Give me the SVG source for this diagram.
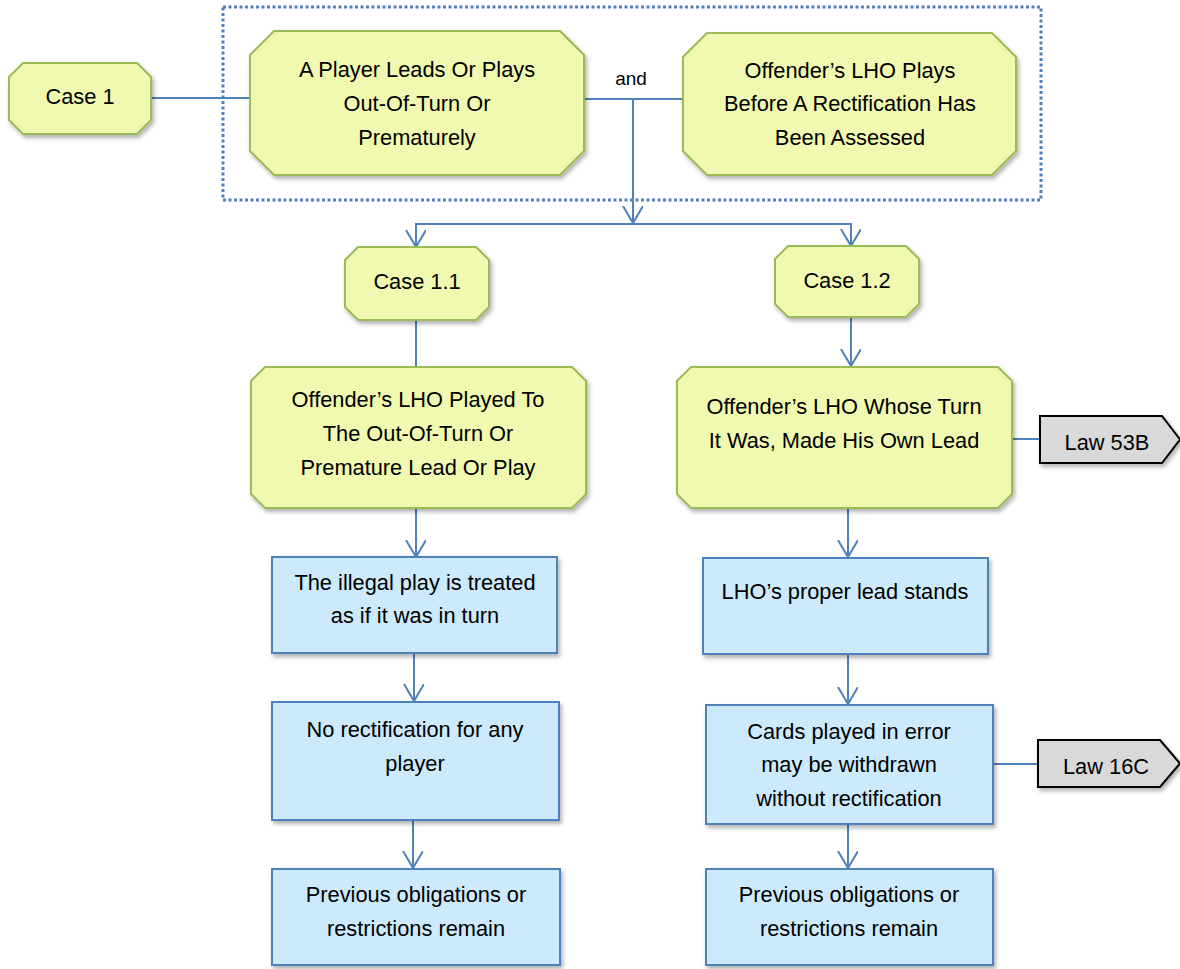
<svg xmlns="http://www.w3.org/2000/svg" width="1180" height="969" viewBox="0 0 1180 969">
<defs>
<filter id="sh" x="-10%" y="-10%" width="130%" height="140%">
<feDropShadow dx="2" dy="3" stdDeviation="2" flood-color="#000" flood-opacity="0.3"/>
</filter>
<marker id="arr" markerUnits="userSpaceOnUse" markerWidth="22" markerHeight="24" refX="17" refY="10" orient="auto">
<path d="M0,0 L17,10 L0,20" fill="none" stroke="#4f81bd" stroke-width="2"/>
</marker>
<style>
.oct{fill:#f1f9b0;stroke:#9bbb59;stroke-width:2;filter:url(#sh)}
.box{fill:#cceafc;stroke:#4f81bd;stroke-width:2;filter:url(#sh)}
.tag{fill:#d9d9d9;stroke:#000;stroke-width:2;filter:url(#sh)}
.t{font-family:"Liberation Sans",Arial,sans-serif;font-size:21.8px;fill:#000;text-anchor:middle}
.s{font-family:"Liberation Sans",Arial,sans-serif;font-size:19px;fill:#000;text-anchor:middle}
.c{fill:none;stroke:#4f81bd;stroke-width:2}
.ca{fill:none;stroke:#4f81bd;stroke-width:2;marker-end:url(#arr)}
</style>
</defs>
<rect x="223" y="7" width="818" height="193" fill="none" stroke="#4f81bd" stroke-width="3" stroke-dasharray="3 2.5"/>
<g id="connectors">
<path class="c" d="M151,98 H250"/>
<path class="c" d="M584,99 H683"/>
<path class="ca" d="M633,99 V223"/>
<path class="ca" d="M633,224 H416 V247"/>
<path class="ca" d="M633,224 H851 V246"/>
<path class="c" d="M416,320 V367"/>
<path class="ca" d="M851,317 V366"/>
<path class="ca" d="M416,508 V557"/>
<path class="ca" d="M414,653 V701"/>
<path class="ca" d="M413,820 V868"/>
<path class="ca" d="M848,508 V557"/>
<path class="ca" d="M848,654 V704"/>
<path class="ca" d="M848,824 V868"/>
<path class="c" d="M1012,439 H1040"/>
<path class="c" d="M993,764 H1038"/>
<text class="s" x="631" y="85">and</text>
</g>
<g id="case1">
<polygon class="oct" points="23,63 137,63 151,77 151,120 137,134 23,134 9,120 9,77"/>
<text class="t" x="80" y="104">Case 1</text>
</g>
<g id="nodeA">
<polygon class="oct" points="274,31 560,31 584,55 584,151 560,175 274,175 250,151 250,55"/>
<text class="t" x="417" y="77">A Player Leads Or Plays</text>
<text class="t" x="417" y="111">Out-Of-Turn Or</text>
<text class="t" x="417" y="145">Prematurely</text>
</g>
<g id="nodeB">
<polygon class="oct" points="707,33 992,33 1016,57 1016,151 992,175 707,175 683,151 683,57"/>
<text class="t" x="850" y="78">Offender’s LHO Plays</text>
<text class="t" x="850" y="111">Before A Rectification Has</text>
<text class="t" x="850" y="145">Been Assessed</text>
</g>
<g id="case11">
<polygon class="oct" points="358,247 476,247 489,260 489,307 476,320 358,320 345,307 345,260"/>
<text class="t" x="417" y="289">Case 1.1</text>
</g>
<g id="case12">
<polygon class="oct" points="788,246 906,246 919,259 919,304 906,317 788,317 775,304 775,259"/>
<text class="t" x="847" y="288">Case 1.2</text>
</g>
<g id="nodeC">
<polygon class="oct" points="265,367 572,367 586,381 586,494 572,508 265,508 251,494 251,381"/>
<text class="t" x="418" y="407">Offender’s LHO Played To</text>
<text class="t" x="418" y="441">The Out-Of-Turn Or</text>
<text class="t" x="418" y="475">Premature Lead Or Play</text>
</g>
<g id="nodeD">
<polygon class="oct" points="691,367 998,367 1012,381 1012,494 998,508 691,508 677,494 677,381"/>
<text class="t" x="844" y="414">Offender’s LHO Whose Turn</text>
<text class="t" x="844" y="448">It Was, Made His Own Lead</text>
</g>
<g id="law53b">
<polygon class="tag" points="1040,416 1162,416 1180,439.5 1162,463 1040,463"/>
<text class="t" x="1107" y="450">Law 53B</text>
</g>
<g id="box1">
<rect class="box" x="272" y="557" width="285" height="96"/>
<text class="t" x="415" y="590">The illegal play is treated</text>
<text class="t" x="415" y="623">as if it was in turn</text>
</g>
<g id="box2">
<rect class="box" x="272" y="702" width="287" height="118"/>
<text class="t" x="415" y="737">No rectification for any</text>
<text class="t" x="415" y="771">player</text>
</g>
<g id="box3">
<rect class="box" x="272" y="869" width="288" height="96"/>
<text class="t" x="416" y="902">Previous obligations or</text>
<text class="t" x="416" y="936">restrictions remain</text>
</g>
<g id="box4">
<rect class="box" x="703" y="558" width="285" height="96"/>
<text class="t" x="845" y="599">LHO’s proper lead stands</text>
</g>
<g id="box5">
<rect class="box" x="706" y="705" width="287" height="119"/>
<text class="t" x="849" y="739">Cards played in error</text>
<text class="t" x="849" y="772">may be withdrawn</text>
<text class="t" x="849" y="806">without rectification</text>
</g>
<g id="law16c">
<polygon class="tag" points="1038,740 1160,740 1180,763.5 1160,787 1038,787"/>
<text class="t" x="1106" y="774">Law 16C</text>
</g>
<g id="box6">
<rect class="box" x="706" y="869" width="287" height="96"/>
<text class="t" x="849" y="902">Previous obligations or</text>
<text class="t" x="849" y="936">restrictions remain</text>
</g>
</svg>
